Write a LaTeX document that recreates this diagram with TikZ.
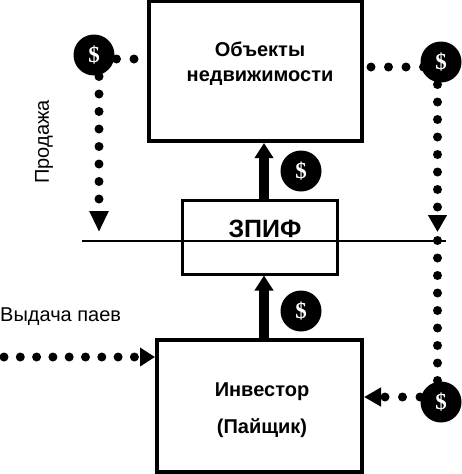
\documentclass[tikz,border=0pt]{standalone}
\usepackage{fontspec}
\setmainfont{Liberation Sans}
\newfontfamily\coinfont{Liberation Serif}
\usepackage{tikz}
\usetikzlibrary{arrows.meta,positioning,calc,backgrounds}
\tikzset{block/.style={rectangle,draw,line width=4pt,fill=white,inner sep=0pt},coin/.style={circle,fill=black,text=white,minimum size=41pt,inner sep=0pt,font=\coinfont\bfseries\fontsize{23}{23}\selectfont},caption/.style={inner sep=0pt,font=\fontsize{20}{20}\selectfont},blocktext/.style={inner sep=0pt,align=center,font=\bfseries\fontsize{20}{25}\selectfont},dots/.style={line width=9pt,line cap=round,dash pattern=on 0pt off #1},dots/.default=17.5pt,dothead/.style={-{Triangle[length=#1,width=18pt]}},flow/.style={line width=9.5pt,-{Triangle[length=15pt,width=18pt]}}}
\begin{document}
\begin{tikzpicture}[x=1pt,y=-1pt]
\useasboundingbox (0,0) rectangle (462,474);
\node[block,minimum width=213pt,minimum height=140pt] (objects) at (255.5,71) {};
\node[block,line width=3pt,minimum width=155pt,minimum height=74pt] (fund) at (259.5,237) {};
\node[block,minimum width=205pt,minimum height=132pt] (investor) at (259.5,406) {};
\node[blocktext] (objectstext) at (260,64) {Объекты\\недвижимости};
\node[blocktext] (investortext) at (262,410) {Инвестор\\[12pt](Пайщик)};
\node[inner sep=0pt,font=\bfseries\fontsize{25}{25}\selectfont] (fundtext) at (265,229) {ЗПИФ};
\node[coin] (coinsale) at (94,55) {\$};
\node[coin] (coinrent) at (441,62) {\$};
\node[coin] (coinfund) at (301,171) {\$};
\node[coin] (coinshare) at (301,311) {\$};
\node[coin] (coinpay) at (441,402) {\$};
\node[caption,rotate=90] (sale) at (44,142) {Продажа};
\node[caption,anchor=west] (shares) at (0,317) {Выдача паев};
% turning points of the dotted lines
\coordinate (saleturn) at (99,59);
\coordinate (saleend) at (99,232);
\coordinate (rentstart) at (371,67);
\coordinate (rentturn) at (437.5,67);
\coordinate (rentend) at (437.5,232);
\coordinate (paystart) at (437.5,240.5);
\coordinate (payturn) at (437.5,397);
\coordinate (sharestart) at (4,357);
\coordinate (linestart) at (82,240.5);
\coordinate (lineend) at (446,240.5);
\coordinate (flowx) at (264,0);
\begin{scope}[on background layer]
\draw[dots] (saleturn)--(objects.west |- saleturn);
\draw[dots,dothead=21pt] (saleturn)--(saleend);
\draw[dots] (rentstart)--(rentturn);
\draw[dots,dothead=17pt] (rentturn)--(rentend);
\draw[dots] (paystart)--(payturn);
\draw[dots,dothead=17pt] (payturn)--(investor.east |- payturn);
\draw[dots=16.3pt,dothead=15pt] (sharestart)--(investor.west |- sharestart);
\end{scope}
\draw[flow] (fund.north -| flowx)--(objects.south -| flowx);
\draw[flow] (investor.north -| flowx)--(fund.south -| flowx);
\draw[line width=2pt] (linestart)--(lineend);
\end{tikzpicture}
\end{document}
